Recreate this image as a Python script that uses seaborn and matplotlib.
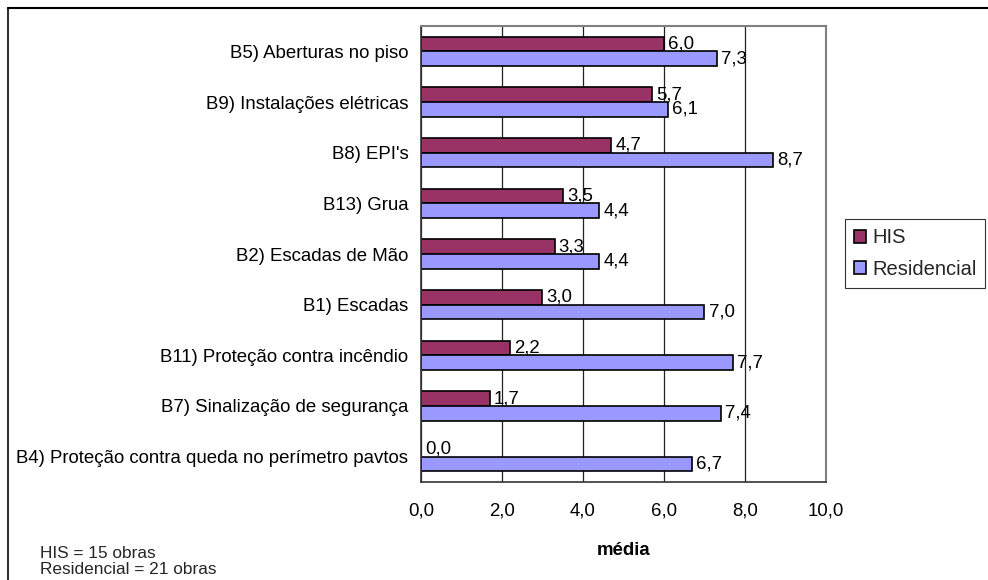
import matplotlib
matplotlib.use("Agg")
import matplotlib.pyplot as plt
from matplotlib.lines import Line2D
import seaborn as sns
import pandas as pd

categorias = [
    "B5) Aberturas no piso",
    "B9) Instalações elétricas",
    "B8) EPI's",
    "B13) Grua",
    "B2) Escadas de Mão",
    "B1) Escadas",
    "B11) Proteção contra incêndio",
    "B7) Sinalização de segurança",
    "B4) Proteção contra queda no perímetro pavtos",
]
his = [6.0, 5.7, 4.7, 3.5, 3.3, 3.0, 2.2, 1.7, 0.0]
residencial = [7.3, 6.1, 8.7, 4.4, 4.4, 7.0, 7.7, 7.4, 6.7]
series = ["HIS", "Residencial"]
cores = ["#993366", "#9999FF"]
x_ticks = [0, 2, 4, 6, 8, 10]

df = pd.DataFrame({
    "categoria": categorias * 2,
    "serie": [series[0]] * len(his) + [series[1]] * len(residencial),
    "media": his + residencial,
})

sns.set_style("white")
plt.rcParams["font.family"] = ["Liberation Sans", "DejaVu Sans"]
FS = 13.4

fig = plt.figure(figsize=(9.88, 5.8), dpi=100)
ax = fig.add_axes([0.426, 0.169, 0.410, 0.786])

sns.barplot(
    data=df, y="categoria", x="media", hue="serie", order=categorias,
    hue_order=series, palette=cores, orient="h", width=0.58,
    edgecolor="black", linewidth=1.2, errorbar=None, ax=ax, saturation=1,
)

# value labels with comma as decimal separator
for cont in ax.containers:
    labels = [f"{b.get_width():.1f}".replace(".", ",") for b in cont]
    ax.bar_label(cont, labels=labels, padding=3, fontsize=FS, color="black")

ax.set_xlim(0, 10)
ax.set_xticks(x_ticks)
ax.set_xticklabels([f"{v:.1f}".replace(".", ",") for v in x_ticks])
ax.set_ylim(len(categorias) - 0.5, -0.5)
ax.tick_params(axis="y", which="major", length=0, labelsize=FS, labelcolor="black", pad=9)
ax.set_yticks([i - 0.5 for i in range(len(categorias) + 1)], minor=True)
ax.tick_params(axis="y", which="minor", length=5, width=1, color="#333333", direction="out")
ax.tick_params(axis="x", which="major", length=5, width=1, color="#333333",
               direction="out", labelsize=FS, labelcolor="black", pad=10)

ax.grid(axis="x", color="#222222", linewidth=0.9)
ax.set_axisbelow(True)
for s in ["top", "right"]:
    ax.spines[s].set_color("#808080")
    ax.spines[s].set_linewidth(1.5)
for s in ["left", "bottom"]:
    ax.spines[s].set_color("#333333")
    ax.spines[s].set_linewidth(1.2)

ax.set_ylabel("")
ax.set_xlabel("média", fontsize=FS, fontweight="bold", labelpad=16, color="black")

handles, labs = ax.get_legend_handles_labels()
ax.legend_.remove()
leg = fig.legend(handles, labs, loc="center left", bbox_to_anchor=(0.855, 0.563),
                 fontsize=14.5, frameon=True, fancybox=False, edgecolor="black",
                 handlelength=0.6, handleheight=0.6, handletextpad=0.3,
                 borderpad=0.45, labelspacing=0.6, borderaxespad=0)
leg.get_frame().set_linewidth(0.8)

fig.text(0.040, 0.006, "HIS = 15 obras\nResidencial = 21 obras",
         fontsize=FS * 0.93, ha="left", va="bottom", linespacing=1.05)

# outer frame (left and top edges)
fig.add_artist(Line2D([0.0085, 0.0085], [0.0, 0.986], transform=fig.transFigure,
                      color="#333333", linewidth=1.5))
fig.add_artist(Line2D([0.0085, 1.0], [0.986, 0.986], transform=fig.transFigure,
                      color="black", linewidth=1.5))

fig.savefig("out.png", dpi=100, facecolor="white")
